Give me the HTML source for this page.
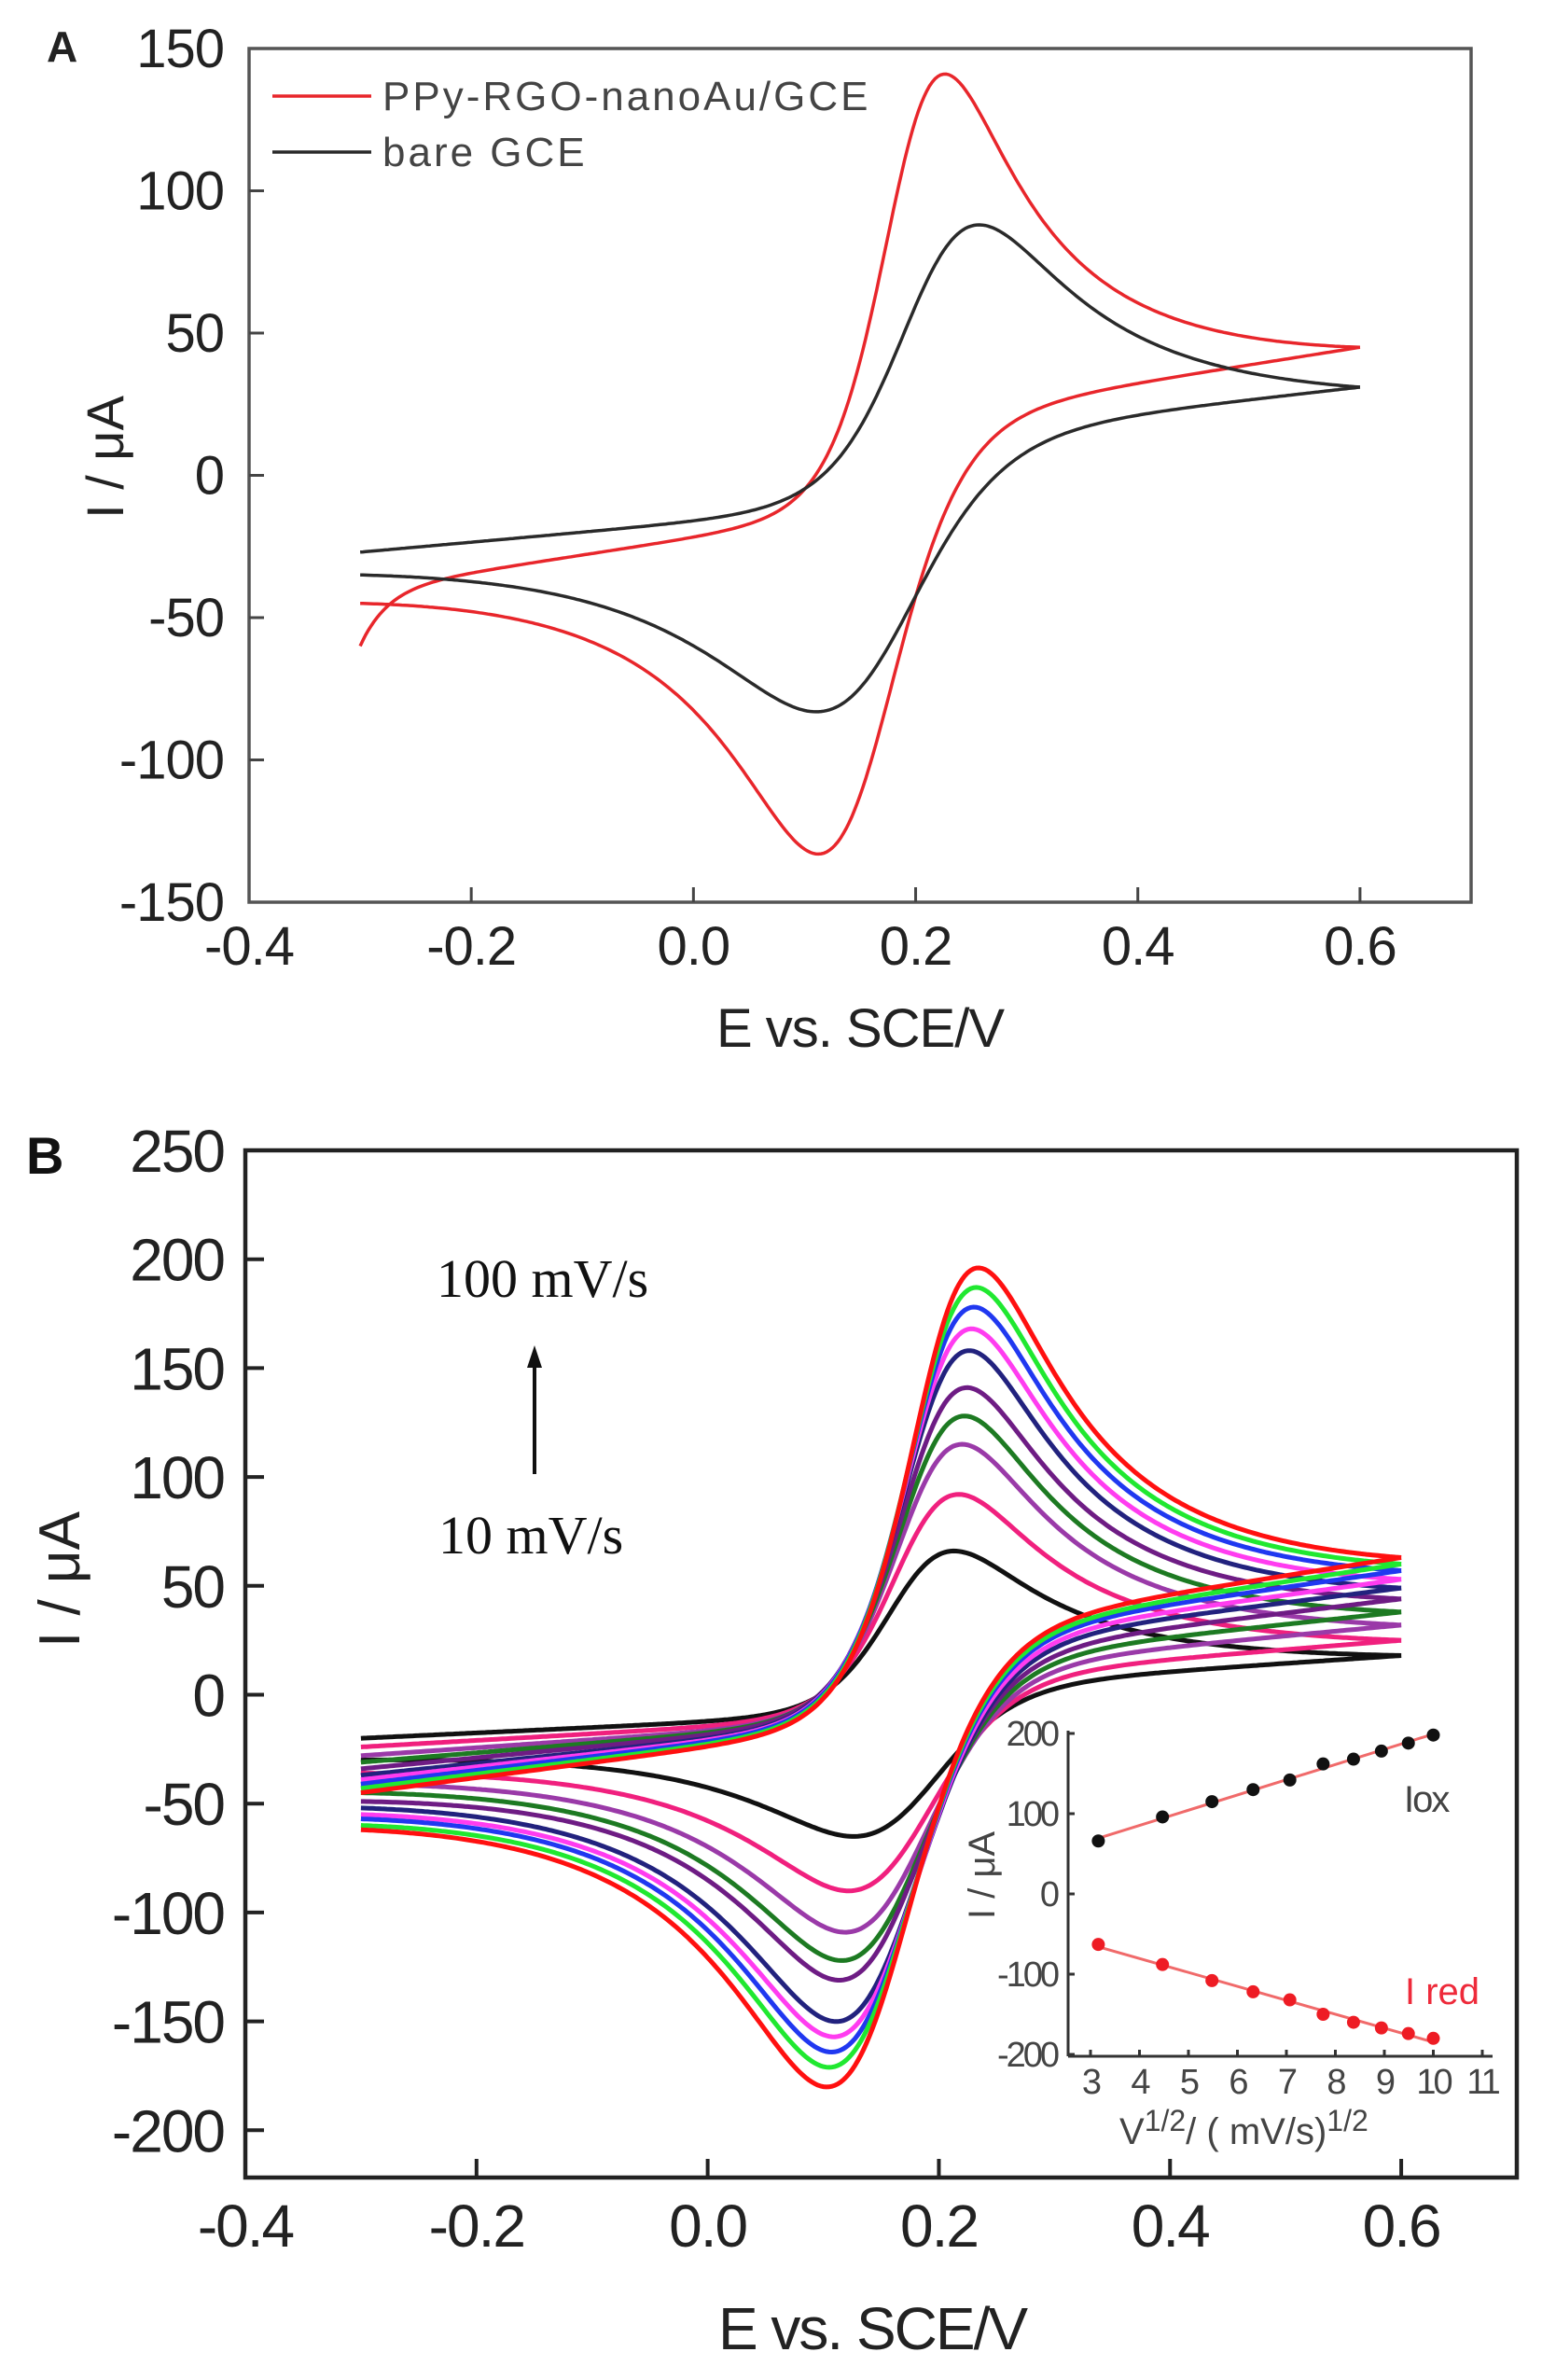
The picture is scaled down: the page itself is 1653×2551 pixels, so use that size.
<!DOCTYPE html>
<html><head><meta charset="utf-8"><style>
html,body{margin:0;padding:0;background:#fff}
svg{display:block}
text{font-family:"Liberation Sans",Arial,sans-serif}
text.serif{font-family:"Liberation Serif","Times New Roman",serif}
</style></head><body>
<svg id="fig" width="1653" height="2551" viewBox="0 0 1653 2551" xmlns="http://www.w3.org/2000/svg">
<g id="pA"></g>
<g id="pB"></g>
<g id="pI"></g>
</svg>
<script>
// ---------- Panel A data ----------
const aSeriesNames = ["PPy-RGO-nanoAu/GCE", "bare GCE"];
const aColors = ["#e8262b", "#2a2a2a"];
const aPeakOx = [141, 88];
const aEpa = [0.225, 0.255];
const aPeakRed = [-133, -83];
const aEpc = [0.115, 0.115];
const aStart = [-40, -27];
const aEnd = [45, 31];
const aRevEnd = [-45, -35];
const aHook = [-20, 0];
const aWidth = [0.028, 0.036];
const aXTicks = [-0.4, -0.2, 0.0, 0.2, 0.4, 0.6];
const aXTickLabels = ["-0.4", "-0.2", "0.0", "0.2", "0.4", "0.6"];
const aYTicks = [150, 100, 50, 0, -50, -100, -150];
const aYTickLabels = ["150", "100", "50", "0", "-50", "-100", "-150"];

// ---------- Panel B data ----------
const bRates = [10, 20, 30, 40, 50, 60, 70, 80, 90, 100];
const bColors = ["#111111", "#f0207e", "#9a3aa8", "#1d7a22", "#6e1c84", "#22227e", "#ff3cf0", "#2038f0", "#20e830", "#ff1010"];
const bPeakOx = [66, 92, 115, 128, 141, 158, 168, 178, 187, 196];
const bEpa = [0.212, 0.216, 0.219, 0.221, 0.223, 0.225, 0.227, 0.229, 0.231, 0.233];
const bPeakRed = [-65, -90, -109, -122, -131, -150, -157, -164, -171, -180];
const bEpc = [0.13, 0.125, 0.122, 0.119, 0.117, 0.114, 0.112, 0.11, 0.108, 0.106];
const bStart = [-20, -24, -28, -31, -34, -37, -39, -41, -43, -45];
const bEnd = [18, 25, 32, 38, 44, 49, 53, 57, 60, 63];
const bRevEnd = [-30, -36, -41, -45, -49, -52, -55, -57, -60, -62];
const bXTicks = [-0.4, -0.2, 0.0, 0.2, 0.4, 0.6];
const bXTickLabels = ["-0.4", "-0.2", "0.0", "0.2", "0.4", "0.6"];
const bYTicks = [250, 200, 150, 100, 50, 0, -50, -100, -150, -200];
const bYTickLabels = ["250", "200", "150", "100", "50", "0", "-50", "-100", "-150", "-200"];

// ---------- Inset data ----------
const iSqrtRate = [3.16, 4.47, 5.48, 6.32, 7.07, 7.75, 8.37, 8.94, 9.49, 10.0];
const iOx = [66, 96, 115, 130, 142, 162, 168, 178, 188, 198];
const iRed = [-63, -88, -108, -122, -132, -150, -160, -167, -174, -180];
const iXTicks = [3, 4, 5, 6, 7, 8, 9, 10, 11];
const iYTicks = [200, 100, 0, -100, -200];
const iYTickLabels = ["200", "100", "0", "-100", "-200"];

const NS = "http://www.w3.org/2000/svg";
function mk(parent, tag, attrs, txt) {
  const el = document.createElementNS(NS, tag);
  for (const k in attrs) el.setAttribute(k, attrs[k]);
  if (txt !== undefined) el.textContent = txt;
  parent.appendChild(el);
  return el;
}
// ---- axis functions ----
const A = {x0: 267, x1: 1577, y0: 52, y1: 967, xmin: -0.4, xmax: 0.7, ymin: -150, ymax: 150};
const B = {x0: 263, x1: 1626, y0: 1233, y1: 2334, xmin: -0.4, xmax: 0.7, ymax: 250};
function axX(ax, v) { return ax.x0 + (v - ax.xmin) / (ax.xmax - ax.xmin) * (ax.x1 - ax.x0); }
function axYA(v) { return A.y0 + (A.ymax - v) / (A.ymax - A.ymin) * (A.y1 - A.y0); }
function axYB(v) { return B.y0 + (B.ymax - v) * 2.334; }
function inX(v) { return 1169 + (v - 3) * 52.5; }
function inY(v) { return 2030 - v * 0.86; }

// ---- CV shape model ----
function sig(x) { return 1 / (1 + Math.exp(-x)); }
function softplus(x) { return x > 30 ? x : Math.log(1 + Math.exp(x)); }
function makeShape(w, tau) {
  const raw = d => { const x = d / w; return sig(x) / (1 + tau * softplus(x)); };
  let best = -1, bd = 0;
  for (let d = -0.3; d <= 0.3; d += 0.0005) { const r = raw(d); if (r > best) { best = r; bd = d; } }
  return d => raw(d + bd) / best;
}
function cvPaths(p, yf) {
  const shA = makeShape(p.w, 1.0), shC = makeShape(p.w * 1.25, 1.0);
  const tA = shA(0.6 - p.Epa), tC = shC(p.Epc + 0.3);
  let kf = (p.end - p.start - tA * (p.peak - p.start)) / (0.9 - tA * (p.Epa + 0.3));
  if (kf < 0) kf = 0;
  const amp = p.peak - p.start - kf * (p.Epa + 0.3);
  const fwdI = E => p.start + kf * (E + 0.3) + amp * shA(E - p.Epa) + p.hook * Math.exp(-(E + 0.3) / 0.025);
  const F = fwdI(0.6);
  const a = 0.6 - p.Epc;
  const kr = (F * (1 - tC) + tC * p.valley - p.revEnd) / (0.9 - tC * a);
  const ampc = F - kr * a - p.valley;
  const revI = E => F - kr * (0.6 - E) - ampc * shC(p.Epc - E);
  let fwd = "", rev = "";
  const N = 360;
  for (let i = 0; i <= N; i++) {
    const E = -0.3 + 0.9 * i / N;
    fwd += (i ? "L" : "M") + axX(p.ax, E).toFixed(1) + "," + yf(fwdI(E)).toFixed(1);
  }
  for (let i = 0; i <= N; i++) {
    const E = 0.6 - 0.9 * i / N;
    rev += (i ? "L" : "M") + axX(p.ax, E).toFixed(1) + "," + yf(revI(E)).toFixed(1);
  }
  return [fwd, rev];
}

// ================= PANEL A =================
const gA = document.getElementById("pA");
mk(gA, "text", {x: 50, y: 66, "font-size": 46, "font-weight": "bold", fill: "#222",  }, "A");
for (let k = 0; k < aSeriesNames.length; k++) {
  const [f, r] = cvPaths({ax: A, w: aWidth[k], Epa: aEpa[k], peak: aPeakOx[k], Epc: aEpc[k], valley: aPeakRed[k], start: aStart[k], end: aEnd[k], revEnd: aRevEnd[k], hook: aHook[k]}, axYA);
  const g = mk(gA, "g", {});
  
  mk(g, "path", {d: f, fill: "none", stroke: aColors[k], "stroke-width": 3.5,  });
  mk(g, "path", {d: r, fill: "none", stroke: aColors[k], "stroke-width": 3.5,  });
}
mk(gA, "rect", {x: A.x0, y: A.y0, width: A.x1 - A.x0, height: A.y1 - A.y0, fill: "none", stroke: "#555", "stroke-width": 3.5,  });
aXTicks.forEach((v, i) => {
  const x = axX(A, v);
  if (i > 0) mk(gA, "line", {x1: x, y1: A.y1, x2: x, y2: A.y1 - 16, stroke: "#444", "stroke-width": 3,  });
  mk(gA, "text", {x: x, y: 1034, "font-size": 58, fill: "#222", "text-anchor": "middle", "letter-spacing": "-1",  }, aXTickLabels[i]);
});
aYTicks.forEach((v, i) => {
  const y = axYA(v);
  if (i > 0 && i < aYTicks.length - 1) mk(gA, "line", {x1: A.x0, y1: y, x2: A.x0 + 16, y2: y, stroke: "#444", "stroke-width": 3,  });
  mk(gA, "text", {x: 240, y: y + 20, "font-size": 58, fill: "#222", "text-anchor": "end", "letter-spacing": "-1",  }, aYTickLabels[i]);
});
mk(gA, "text", {x: 922, y: 1122, "font-size": 58, fill: "#222", "text-anchor": "middle", "letter-spacing": "-1",  }, "E vs. SCE/V");
mk(gA, "text", {x: 0, y: 0, "font-size": 56, fill: "#222", "text-anchor": "middle", transform: "translate(132,490) rotate(-90)",  }, "I / μA");
const lg = mk(gA, "g", { });
mk(lg, "line", {x1: 292, y1: 103, x2: 398, y2: 103, stroke: aColors[0], "stroke-width": 3.5,  });
mk(lg, "text", {x: 410, y: 118, "font-size": 44, fill: "#444", "letter-spacing": "3",  }, aSeriesNames[0]);
mk(lg, "line", {x1: 292, y1: 163, x2: 398, y2: 163, stroke: aColors[1], "stroke-width": 3.5,  });
mk(lg, "text", {x: 410, y: 178, "font-size": 44, fill: "#444", "letter-spacing": "3",  }, aSeriesNames[1]);

// ================= PANEL B =================
const gB = document.getElementById("pB");
mk(gB, "text", {x: 28, y: 1258, "font-size": 56, "font-weight": "bold", fill: "#111",  }, "B");
for (let k = 0; k < bRates.length; k++) {
  const [f, r] = cvPaths({ax: B, w: 0.03, Epa: bEpa[k], peak: bPeakOx[k], Epc: bEpc[k], valley: bPeakRed[k], start: bStart[k], end: bEnd[k], revEnd: bRevEnd[k], hook: 0}, axYB);
  const g = mk(gB, "g", {});
  
  mk(g, "path", {d: f, fill: "none", stroke: bColors[k], "stroke-width": 5,  });
  mk(g, "path", {d: r, fill: "none", stroke: bColors[k], "stroke-width": 5,  });
}
mk(gB, "rect", {x: B.x0, y: B.y0, width: B.x1 - B.x0, height: B.y1 - B.y0, fill: "none", stroke: "#222", "stroke-width": 4.5,  });
bXTicks.forEach((v, i) => {
  const x = axX(B, v);
  if (i > 0) mk(gB, "line", {x1: x, y1: B.y1, x2: x, y2: B.y1 - 20, stroke: "#222", "stroke-width": 4,  });
  mk(gB, "text", {x: x, y: 2408, "font-size": 64, fill: "#222", "text-anchor": "middle", "letter-spacing": "-2",  }, bXTickLabels[i]);
});
bYTicks.forEach((v, i) => {
  const y = axYB(v);
  if (i > 0) mk(gB, "line", {x1: B.x0, y1: y, x2: B.x0 + 20, y2: y, stroke: "#222", "stroke-width": 4,  });
  mk(gB, "text", {x: 240, y: y + 23, "font-size": 64, fill: "#222", "text-anchor": "end", "letter-spacing": "-2",  }, bYTickLabels[i]);
});
mk(gB, "text", {x: 935, y: 2518, "font-size": 64, fill: "#222", "text-anchor": "middle", "letter-spacing": "-2",  }, "E vs. SCE/V");
mk(gB, "text", {x: 0, y: 0, "font-size": 62, fill: "#222", "text-anchor": "middle", transform: "translate(85,1693) rotate(-90)",  }, "I  /  μA");
mk(gB, "text", {x: 468, y: 1390, "font-size": 58, fill: "#111", class: "serif",  }, "100 mV/s");
mk(gB, "text", {x: 470, y: 1665, "font-size": 58, fill: "#111", class: "serif",  }, "10 mV/s");
mk(gB, "line", {x1: 573, y1: 1580, x2: 573, y2: 1462, stroke: "#111", "stroke-width": 4,  });
mk(gB, "polygon", {points: "573,1442 565,1466 581,1466", fill: "#111",  });

// ================= INSET =================
const gI = document.getElementById("pI");
mk(gI, "line", {x1: 1145, y1: 1855, x2: 1145, y2: 2204, stroke: "#333", "stroke-width": 3,  });
mk(gI, "line", {x1: 1145, y1: 2204, x2: 1600, y2: 2204, stroke: "#333", "stroke-width": 3,  });
iYTicks.forEach((v, i) => {
  const y = inY(v);
  mk(gI, "line", {x1: 1145, y1: y, x2: 1152, y2: y, stroke: "#333", "stroke-width": 3,  });
  mk(gI, "text", {x: 1133, y: y + 13, "font-size": 38, fill: "#444", "text-anchor": "end", "letter-spacing": "-3",  }, iYTickLabels[i]);
});
iXTicks.forEach(v => {
  const x = inX(v);
  mk(gI, "line", {x1: x, y1: 2204, x2: x, y2: 2197, stroke: "#333", "stroke-width": 3,  });
  mk(gI, "text", {x: x, y: 2244, "font-size": 38, fill: "#444", "text-anchor": "middle", "letter-spacing": "-3",  }, String(v));
});
function fitLine(xs, ys) {
  const n = xs.length; let sx = 0, sy = 0, sxx = 0, sxy = 0;
  for (let i = 0; i < n; i++) { sx += xs[i]; sy += ys[i]; sxx += xs[i] * xs[i]; sxy += xs[i] * ys[i]; }
  const m = (n * sxy - sx * sy) / (n * sxx - sx * sx); return [m, (sy - m * sx) / n];
}
[[iOx, "#111", "inset-ox"], [iRed, "#ee1c24", "inset-red"]].forEach(([ys, col, nm]) => {
  const [m, b] = fitLine(iSqrtRate, ys);
  const x0 = iSqrtRate[0], x1 = iSqrtRate[iSqrtRate.length - 1];
  const ln = mk(gI, "line", {x1: inX(x0), y1: inY(m * x0 + b), x2: inX(x1), y2: inY(m * x1 + b), stroke: "#f06a6a", "stroke-width": 3, });
  
  ys.forEach((v, i) => {
    const c = mk(gI, "circle", {cx: inX(iSqrtRate[i]), cy: inY(v), r: 7, fill: col, });
    
  });
});
mk(gI, "text", {x: 1505, y: 1942, "font-size": 40, fill: "#444", "letter-spacing": "-2",  }, "Iox");
mk(gI, "text", {x: 1506, y: 2148, "font-size": 40, fill: "#ee2a3a",  }, "I red");
mk(gI, "text", {x: 0, y: 0, "font-size": 40, fill: "#444", "text-anchor": "middle", transform: "translate(1066,2010) rotate(-90)",  }, "I / μA");
const xt = mk(gI, "text", {x: 1200, y: 2298, "font-size": 40, fill: "#444",  });
xt.innerHTML = 'V<tspan dy="-14" font-size="32">1/2</tspan><tspan dy="14">/ ( mV/s)</tspan><tspan dy="-14" font-size="32">1/2</tspan>';
</script>
</body></html>
